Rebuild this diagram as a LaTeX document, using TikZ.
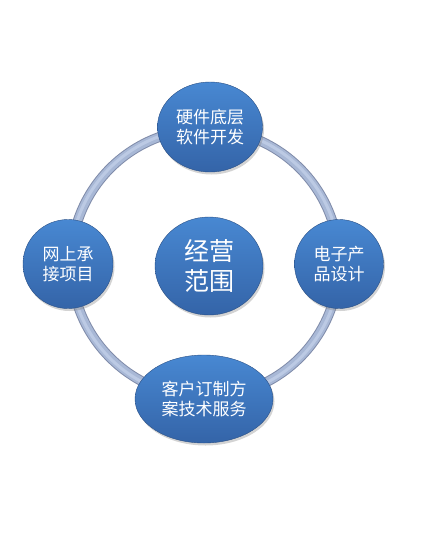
\documentclass[tikz,border=0pt]{standalone}
\usepackage{fontspec}
\setmainfont{Noto Sans CJK SC}
\usetikzlibrary{shapes.geometric,shadows}
\definecolor{blobtop}{RGB}{72,136,210}
\definecolor{blobbot}{RGB}{52,100,168}
\definecolor{ringdark}{RGB}{128,140,170}
\definecolor{ringmid}{RGB}{168,184,214}
\definecolor{ringlight}{RGB}{188,202,228}
\tikzset{
  blob/.style={ellipse, inner sep=0pt, text=white, align=center,
    top color=blobtop, bottom color=blobbot, draw=blobbot!80!black, line width=0.4pt,
    drop shadow={opacity=0.35, shadow xshift=1.5pt, shadow yshift=-2.5pt},
    font=\fontsize{17}{20}\selectfont},
  bigblob/.style={blob, font=\fontsize{25}{30}\selectfont}
}
\begin{document}
\begin{tikzpicture}[x=1pt,y=-1pt]
\useasboundingbox (0,0) rectangle (422,550);
\coordinate (ring) at (205,263);
\draw[ringdark, line width=10pt] (ring) circle (134);
\draw[ringmid, line width=8pt] (ring) circle (134);
\draw[ringlight, line width=3pt] (ring) circle (134.5);
\node (core) [bigblob, minimum width=108pt, minimum height=98pt] at (209,266) {经营\\范围};
\node (top) [blob, minimum width=105pt, minimum height=90pt] at (210,127) {硬件底层\\软件开发};
\node (right) [blob, minimum width=89pt, minimum height=89pt] at (339,264) {电子产\\品设计};
\node (left) [blob, minimum width=90pt, minimum height=89pt] at (68,264) {网上承\\接项目};
\node (bottom) [blob, minimum width=138pt, minimum height=88pt] at (204,399) {客户订制方\\案技术服务};
\end{tikzpicture}
\end{document}
